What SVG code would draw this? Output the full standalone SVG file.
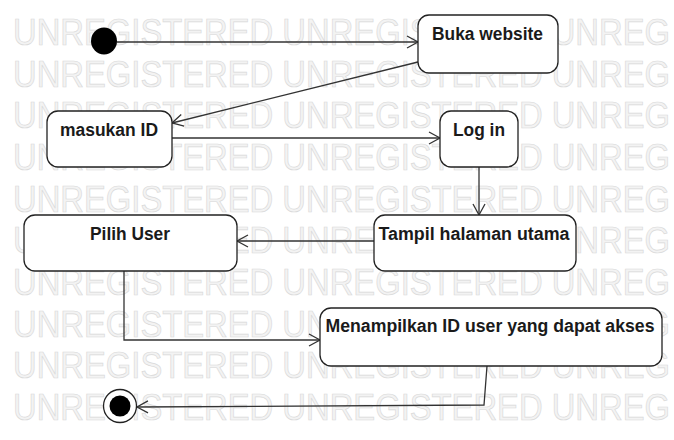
<svg xmlns="http://www.w3.org/2000/svg" width="674" height="440" viewBox="0 0 674 440">
<defs>
<style>
.wm{font-family:"Liberation Sans",Arial,sans-serif;font-size:37px;fill:#f3f3f3;stroke:#d9d9d9;stroke-width:0.7}
.box{fill:#fff;stroke:#222;stroke-width:1.3}
.lbl{font-family:"Liberation Sans",Arial,sans-serif;font-size:18px;font-weight:bold;fill:#1a1a1a;text-anchor:middle}
.edge{fill:none;stroke:#333;stroke-width:1.3}
</style>
<marker id="arr" markerWidth="14" markerHeight="14" refX="12" refY="7" orient="auto" markerUnits="userSpaceOnUse">
<path d="M1,1 L12,7 L1,13" fill="none" stroke="#333" stroke-width="1.3"/>
</marker>
</defs>
<rect width="674" height="440" fill="#fff"/>
<g id="watermark">
<text class="wm" x="13" y="45" textLength="657" lengthAdjust="spacingAndGlyphs">UNREGISTERED UNREGISTERED UNREG</text>
<text class="wm" x="13" y="87" textLength="657" lengthAdjust="spacingAndGlyphs">UNREGISTERED UNREGISTERED UNREG</text>
<text class="wm" x="13" y="128" textLength="657" lengthAdjust="spacingAndGlyphs">UNREGISTERED UNREGISTERED UNREG</text>
<text class="wm" x="13" y="170" textLength="657" lengthAdjust="spacingAndGlyphs">UNREGISTERED UNREGISTERED UNREG</text>
<text class="wm" x="13" y="212" textLength="657" lengthAdjust="spacingAndGlyphs">UNREGISTERED UNREGISTERED UNREG</text>
<text class="wm" x="13" y="253" textLength="657" lengthAdjust="spacingAndGlyphs">UNREGISTERED UNREGISTERED UNREG</text>
<text class="wm" x="13" y="295" textLength="657" lengthAdjust="spacingAndGlyphs">UNREGISTERED UNREGISTERED UNREG</text>
<text class="wm" x="13" y="337" textLength="657" lengthAdjust="spacingAndGlyphs">UNREGISTERED UNREGISTERED UNREG</text>
<text class="wm" x="13" y="378" textLength="657" lengthAdjust="spacingAndGlyphs">UNREGISTERED UNREGISTERED UNREG</text>
<text class="wm" x="13" y="420" textLength="657" lengthAdjust="spacingAndGlyphs">UNREGISTERED UNREGISTERED UNREG</text>
</g>
<g id="connectors">
<path class="edge" d="M117,42 L418,42" marker-end="url(#arr)"/>
<path class="edge" d="M418,62 L172,123" marker-end="url(#arr)"/>
<path class="edge" d="M172,138 L440,138" marker-end="url(#arr)"/>
<path class="edge" d="M479,167 L479,215" marker-end="url(#arr)"/>
<path class="edge" d="M374,241 L237,241" marker-end="url(#arr)"/>
<path class="edge" d="M124,271 L124,340 L320,340" marker-end="url(#arr)"/>
<path class="edge" d="M487,366 L484,405 L137,407" marker-end="url(#arr)"/>
</g>
<g id="start"><ellipse cx="104" cy="41" rx="13" ry="13.5" fill="#000"/></g>
<g id="buka"><rect class="box" x="418" y="15" width="140" height="58" rx="11"/><text class="lbl" x="487.5" y="40" textLength="111" lengthAdjust="spacingAndGlyphs">Buka website</text></g>
<g id="masukan"><rect class="box" x="47" y="111" width="125" height="56" rx="11"/><text class="lbl" x="109" y="136" textLength="98" lengthAdjust="spacingAndGlyphs">masukan ID</text></g>
<g id="login"><rect class="box" x="440" y="111" width="78" height="56" rx="11"/><text class="lbl" x="479" y="136" textLength="52" lengthAdjust="spacingAndGlyphs">Log in</text></g>
<g id="tampil"><rect class="box" x="374" y="215" width="202" height="56" rx="11"/><text class="lbl" x="474" y="240" textLength="191" lengthAdjust="spacingAndGlyphs">Tampil halaman utama</text></g>
<g id="pilih"><rect class="box" x="24" y="215" width="213" height="56" rx="11"/><text class="lbl" x="130" y="240" textLength="80" lengthAdjust="spacingAndGlyphs">Pilih User</text></g>
<g id="menampilkan"><rect class="box" x="320" y="308" width="342" height="58" rx="11"/><text class="lbl" x="490" y="332" textLength="329" lengthAdjust="spacingAndGlyphs">Menampilkan ID user yang dapat akses</text></g>
<g id="end"><circle cx="120" cy="406" r="16.5" fill="#fff" stroke="#222" stroke-width="1.3"/><circle cx="120" cy="406" r="10.5" fill="#000"/></g>
</svg>
